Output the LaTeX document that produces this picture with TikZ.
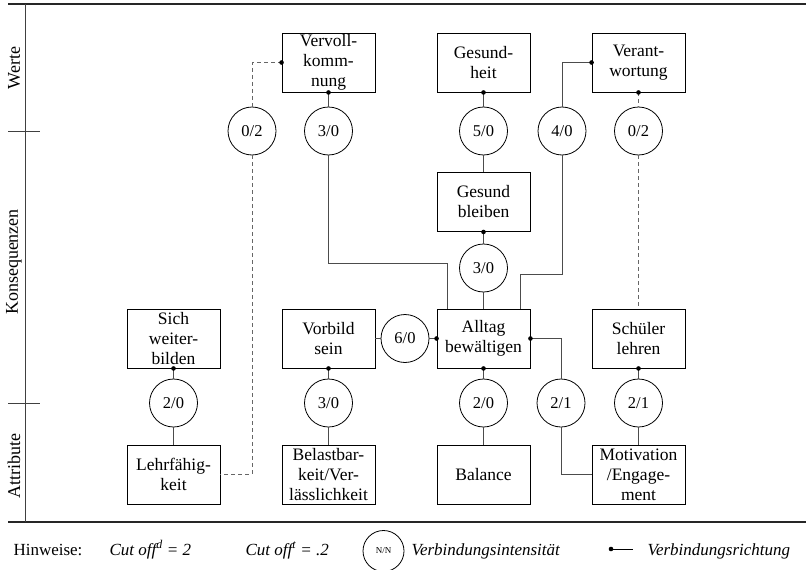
\documentclass[tikz,border=0pt]{standalone}
\usepackage{fontspec}
\setmainfont{Liberation Serif}
\begin{document}
\begin{tikzpicture}[x=1pt,y=-1pt,
  concept/.style={draw=black,line width=0.9pt,minimum width=93pt,minimum height=59pt,
    inner sep=0pt,align=center,font=\fontsize{17.5}{20}\selectfont},
  intens/.style={draw=black,line width=0.8pt,circle,minimum size=48pt,inner sep=0pt,
    font=\fontsize{16.5}{18}\selectfont},
  link/.style={draw=black!70,line width=0.9pt},
  weak/.style={draw=black!60,line width=0.9pt,dash pattern=on 4pt off 3pt},
  src/.style={fill=black,circle,inner sep=0pt,minimum size=4.6pt},
  axis/.style={draw=black!75,line width=0.9pt},
  frame/.style={draw=black!85,line width=1.8pt},
  level/.style={rotate=90,font=\fontsize{18}{20}\selectfont},
  note/.style={font=\fontsize{17}{20}\selectfont}]
\useasboundingbox (0,0) rectangle (806,570);

% frame and level axis
\draw[frame] (8,4) -- (806,4);
\draw[frame] (8,522) -- (806,522);
\draw[axis] (25,4) -- (25,522);
\draw[axis] (8,131) -- (40,131);
\draw[axis] (8,403) -- (40,403);
\node[level] (lw) at (14,68) {Werte};
\node[level] (lk) at (14,262) {Konsequenzen};
\node[level] (la) at (14,466) {Attribute};

% values
\node[concept] (verv) at (328.5,62.5) {Vervoll-\\komm-\\nung};
\node[concept] (gesh) at (483.5,62.5) {Gesund-\\heit};
\node[concept] (veran) at (638.5,62.5) {Verant-\\wortung};
% consequences
\node[concept] (gesb) at (483.5,202) {Gesund\\bleiben};
\node[concept] (weiter) at (173.5,338.5) {Sich\\weiter-\\bilden};
\node[concept] (vorb) at (328.5,338.5) {Vorbild\\sein};
\node[concept] (allt) at (483.5,338.5) {Alltag\\bewältigen};
\node[concept] (schuel) at (638.5,338.5) {Schüler\\lehren};
% attributes
\node[concept] (lehr) at (173.5,474.5) {Lehrfähig-\\keit};
\node[concept] (belast) at (328.5,474.5) {Belastbar-\\keit/Ver-\\lässlichkeit};
\node[concept] (bal) at (483.5,474.5) {Balance};
\node[concept] (motiv) at (638.5,474.5) {Motivation\\/Engage-\\ment};

% link intensities
\node[intens] (iA) at (252,131) {0/2};
\node[intens] (iB) at (328.5,131) {3/0};
\node[intens] (iC) at (483.5,131) {5/0};
\node[intens] (iD) at (562,131) {4/0};
\node[intens] (iE) at (638.5,131) {0/2};
\node[intens] (iF) at (483.5,268) {3/0};
\node[intens] (iG) at (405,338.5) {6/0};
\node[intens] (iH) at (173.5,403) {2/0};
\node[intens] (iI) at (328.5,403) {3/0};
\node[intens] (iJ) at (483.5,403) {2/0};
\node[intens] (iK) at (561,403) {2/1};
\node[intens] (iL) at (638.5,403) {2/1};

\coordinate (bendA) at (447,263);
\coordinate (bendB) at (520,274);

% connectors
\draw[weak] (verv.west) -| (iA.north);
\draw[weak] (iA.south) |- (lehr.east);
\draw[link] (verv.south) -- (iB.north);
\draw[link] (iB.south) |- (bendA) -- (allt.north -| bendA);
\draw[link] (gesh.south) -- (iC.north);
\draw[link] (iC.south) -- (gesb.north);
\draw[link] (veran.west) -| (iD.north);
\draw[link] (iD.south) |- (bendB) -- (allt.north -| bendB);
\draw[weak] (veran.south) -- (iE.north);
\draw[weak] (iE.south) -- (schuel.north);
\draw[link] (gesb.south) -- (iF.north);
\draw[link] (iF.south) -- (allt.north);
\draw[link] (vorb.east) -- (iG.west);
\draw[link] (iG.east) -- (allt.west);
\draw[link] (weiter.south) -- (iH.north);
\draw[link] (iH.south) -- (lehr.north);
\draw[link] (vorb.south) -- (iI.north);
\draw[link] (iI.south) -- (belast.north);
\draw[link] (allt.south) -- (iJ.north);
\draw[link] (iJ.south) -- (bal.north);
\draw[link] (allt.east) -| (iK.north);
\draw[link] (iK.south) |- (motiv.west);
\draw[link] (schuel.south) -- (iL.north);
\draw[link] (iL.south) -- (motiv.north);

% direction dots
\foreach \p in {verv.west,verv.south,gesh.south,veran.west,veran.south,gesb.south,
  weiter.south,vorb.south,allt.west,allt.south,allt.east,schuel.south}
  \node[src] at (\p) {};

% notes
\node[note,anchor=base west] (h0) at (10,555) {Hinweise:};
\node[note,anchor=base west] (h1) at (106,555) {\itshape Cut off\textsuperscript{d} = 2};
\node[note,anchor=base west] (h2) at (242,555) {\itshape Cut off\textsuperscript{t} = .2};
\node[draw=black,line width=0.8pt,circle,minimum size=41pt,inner sep=0pt,
  font=\fontsize{9}{10}\selectfont] (hc) at (383.5,551) {N/N};
\node[note,anchor=base west] (h3) at (408,555) {\itshape Verbindungsintensität};
\node[src] (hd) at (611,549) {};
\coordinate (he) at (633,549);
\draw[link,draw=black] (hd.center) -- (he);
\node[note,anchor=base west] (h4) at (644,555) {\itshape Verbindungsrichtung};
\end{tikzpicture}
\end{document}
